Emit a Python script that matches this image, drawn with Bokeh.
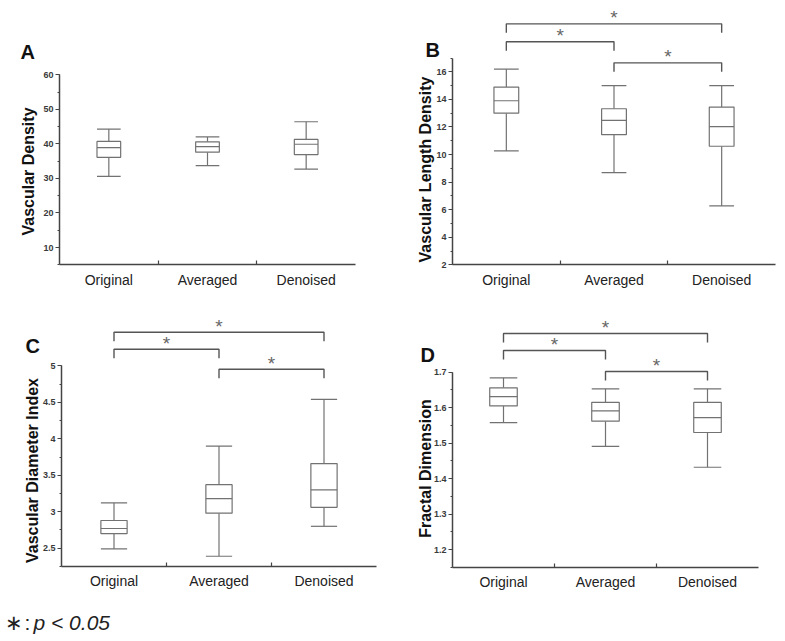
import math
from bokeh.plotting import figure
from bokeh.models import (Range1d, SingleIntervalTicker, FixedTicker, NumeralTickFormatter,
                          CustomJSTickFormatter, LinearAxis, ColumnDataSource)
from bokeh.layouts import column, row
from bokeh.core.properties import value
from bokeh.embed import file_html
from bokeh.resources import INLINE

FONT = "Liberation Sans"

# ---------------- data ----------------
categories = ["Original", "Averaged", "Denoised"]

# A: Vascular Density (whisker low, Q1, median, Q3, whisker high)
vd_low = [30.6, 33.7, 32.7]
vd_q1 = [36.1, 37.6, 36.9]
vd_med = [38.9, 39.2, 39.9]
vd_q3 = [40.7, 40.6, 41.3]
vd_high = [44.3, 42.0, 46.4]

# B: Vascular Length Density
vld_low = [10.26, 8.69, 6.27]
vld_q1 = [13.0, 11.44, 10.6]
vld_med = [13.9, 12.48, 12.02]
vld_q3 = [14.89, 13.32, 13.44]
vld_high = [16.19, 15.0, 15.0]

# C: Vascular Diameter Index
vdi_low = [2.49, 2.39, 2.80]
vdi_q1 = [2.70, 2.98, 3.06]
vdi_med = [2.77, 3.18, 3.30]
vdi_q3 = [2.88, 3.37, 3.66]
vdi_high = [3.12, 3.90, 4.54]

# D: Fractal Dimension
fd_low = [1.558, 1.491, 1.432]
fd_q1 = [1.605, 1.562, 1.530]
fd_med = [1.631, 1.591, 1.572]
fd_q3 = [1.656, 1.615, 1.615]
fd_high = [1.684, 1.653, 1.653]

# significance brackets: pairs of category indices and bracket level (data units)
sig_pairs = [(0, 1), (0, 2), (1, 2)]
sig_B = [18.18, 19.48, 16.65]
sig_C = [5.226, 5.459, 4.952]
sig_D = [1.761, 1.809, 1.702]

# ---------------- layout specs (pixel geometry, page coords) ----------------
panels = [
    dict(letter="A", label="Vascular Density", fig=(0, 0, 392, 300),
         xcal=((0, 59), (3, 355)), ycal=((60, 74.3), (10, 247.0)),
         ybounds=(5, 60), interval=10, fmt="0",
         data=(vd_low, vd_q1, vd_med, vd_q3, vd_high), boxw=0.24, sig=None,
         letter_pos=(20, 51), label_pos=(28, 171)),
    dict(letter="B", label="Vascular Length Density", fig=(392, 0, 393, 300),
         xcal=((0, 452), (3, 775)), ycal=((16, 71.3), (2, 264.3)),
         ybounds=(2, 17), interval=2, fmt="0",
         data=(vld_low, vld_q1, vld_med, vld_q3, vld_high), boxw=0.23, sig=sig_B,
         letter_pos=(425, 49.5), label_pos=(425, 169)),
    dict(letter="C", label="Vascular Diameter Index", fig=(0, 300, 392, 341),
         xcal=((0, 61), (3, 376)), ycal=((5, 365.3), (2.5, 547.7)),
         ybounds=(2.25, 5.0001), interval=0.5, fmt="0.[0]",
         data=(vdi_low, vdi_q1, vdi_med, vdi_q3, vdi_high), boxw=0.25, sig=sig_C,
         letter_pos=(25, 345), label_pos=(32, 470)),
    dict(letter="D", label="Fractal Dimension", fig=(392, 300, 393, 341),
         xcal=((0, 452), (3, 758)), ycal=((1.7, 371.7), (1.2, 549.0)),
         ybounds=(1.15, 1.7001), interval=0.1, fmt="0.0",
         data=(fd_low, fd_q1, fd_med, fd_q3, fd_high), boxw=0.27, sig=sig_D,
         letter_pos=(420, 354.5), label_pos=(425, 468)),
]

AXIS_COLOR = "#444444"
BOX_COLOR = "#727272"
BRACKET_COLOR = "#555555"


def make_panel(spec):
    fx, fy, W, H = spec["fig"]
    (xa, pxa), (xb, pxb) = spec["xcal"]
    (ya, pya), (yb, pyb) = spec["ycal"]
    kx = (pxb - pxa) / (xb - xa)
    ky = (pya - pyb) / (yb - ya)

    def dx(px):
        return xa + (px - pxa) / kx

    def dy(py):
        return ya + (pya - py) / ky

    p = figure(width=W, height=H, output_backend="svg", toolbar_location=None,
               x_range=Range1d(dx(fx), dx(fx + W)), y_range=Range1d(dy(fy + H), dy(fy)),
               min_border_left=0, min_border_right=0, min_border_top=0, min_border_bottom=0,
               x_axis_location=None, y_axis_location=None)
    p.outline_line_color = None
    p.xgrid.visible = False
    p.ygrid.visible = False
    p.background_fill_color = "white"
    p.border_fill_color = "white"

    ylo, yhi = spec["ybounds"]

    # y axis (fixed at x = 0)
    yax = LinearAxis(ticker=SingleIntervalTicker(interval=spec["interval"], num_minor_ticks=2),
                     formatter=NumeralTickFormatter(format=spec["fmt"]),
                     bounds=(ylo, yhi), fixed_location=0)
    yax.axis_line_color = AXIS_COLOR
    yax.axis_line_width = 1.5
    yax.major_tick_in = 0
    yax.major_tick_out = 4
    yax.minor_tick_in = 0
    yax.minor_tick_out = 2
    yax.major_tick_line_color = AXIS_COLOR
    yax.minor_tick_line_color = AXIS_COLOR
    yax.major_tick_line_width = 1.2
    yax.major_label_text_font = FONT
    yax.major_label_text_font_size = "9px"
    yax.major_label_text_font_style = "bold"
    yax.major_label_text_color = "#3a3a3a"
    yax.major_label_standoff = 2
    p.add_layout(yax, "left")

    # x axis (fixed at bottom of y axis): labels at centres, tick marks at separators
    xax = LinearAxis(ticker=FixedTicker(ticks=[0.5, 1.5, 2.5], minor_ticks=[1, 2]),
                     formatter=CustomJSTickFormatter(args=dict(labels=categories),
                                                     code="return labels[Math.floor(tick)]"),
                     bounds=(0, 3), fixed_location=ylo)
    xax.axis_line_color = AXIS_COLOR
    xax.axis_line_width = 1.5
    xax.major_tick_in = 0
    xax.major_tick_out = 0
    xax.minor_tick_in = 4
    xax.minor_tick_out = 0
    xax.minor_tick_line_color = AXIS_COLOR
    xax.minor_tick_line_width = 1.2
    xax.major_label_text_font = FONT
    xax.major_label_text_font_size = "14px"
    xax.major_label_text_color = "#222222"
    xax.major_label_standoff = 7
    p.add_layout(xax, "below")

    # boxes
    low, q1, med, q3, high = spec["data"]
    w = spec["boxw"]
    xs = [i + 0.5 for i in range(len(categories))]
    src = ColumnDataSource(dict(x=xs, left=[x - w / 2 for x in xs], right=[x + w / 2 for x in xs],
                                low=low, q1=q1, med=med, q3=q3, high=high))
    kw = dict(source=src, line_color=BOX_COLOR, line_width=1.2)
    p.segment(x0="x", y0="q3", x1="x", y1="high", **kw)
    p.segment(x0="x", y0="q1", x1="x", y1="low", **kw)
    p.segment(x0="left", y0="high", x1="right", y1="high", **kw)
    p.segment(x0="left", y0="low", x1="right", y1="low", **kw)
    p.quad(left="left", right="right", bottom="q1", top="q3", fill_color="white", **kw)
    p.segment(x0="left", y0="med", x1="right", y1="med", **kw)

    # significance brackets
    if spec["sig"] is not None:
        drop = 9 / ky
        star_off = 6 / ky
        bx, by, sx, sy = [], [], [], []
        for (i, j), h in zip(sig_pairs, spec["sig"]):
            xi, xj = xs[i], xs[j]
            bx.append([xi, xi, xj, xj])
            by.append([h - drop, h, h, h - drop])
            sx.append((xi + xj) / 2)
            sy.append(h + star_off)
        p.multi_line(xs=bx, ys=by, line_color=BRACKET_COLOR, line_width=1.4)
        p.text(x=sx, y=sy, text=["*"] * len(sx), text_font=value(FONT),
               text_font_size=value("19px"), text_color="#666666",
               text_align="center", text_baseline="middle")

    # panel letter
    lx, ly = spec["letter_pos"]
    p.text(x=[dx(lx)], y=[dy(ly)], text=[spec["letter"]], text_font=value(FONT),
           text_font_size=value("20px"), text_font_style=value("bold"), text_color="#111111",
           text_align="left", text_baseline="middle")
    # y axis title
    ax_, ay_ = spec["label_pos"]
    p.text(x=[dx(ax_)], y=[dy(ay_)], text=[spec["label"]], angle=math.pi / 2,
           text_font=value(FONT), text_font_size=value("16px"), text_font_style=value("bold"),
           text_color="#111111", text_align="center", text_baseline="middle")
    return p, dx, dy


pA, _, _ = make_panel(panels[0])
pB, _, _ = make_panel(panels[1])
pC, dxC, dyC = make_panel(panels[2])
pD, _, _ = make_panel(panels[3])

# footnote
foot_kw = dict(text_font=value(FONT), text_font_size=value("21px"), text_color="#222222",
               text_align="left", text_baseline="middle")
pC.text(x=[dxC(4)], y=[dyC(622)], text=["∗"], **foot_kw)
pC.text(x=[dxC(24)], y=[dyC(622)], text=[":"], **foot_kw)
pC.text(x=[dxC(33)], y=[dyC(622)], text=["p < 0.05"], text_font_style=value("italic"), **foot_kw)

layout = column(row(pA, pB), row(pC, pD))

open("out.html", "w").write(file_html(layout, INLINE))
